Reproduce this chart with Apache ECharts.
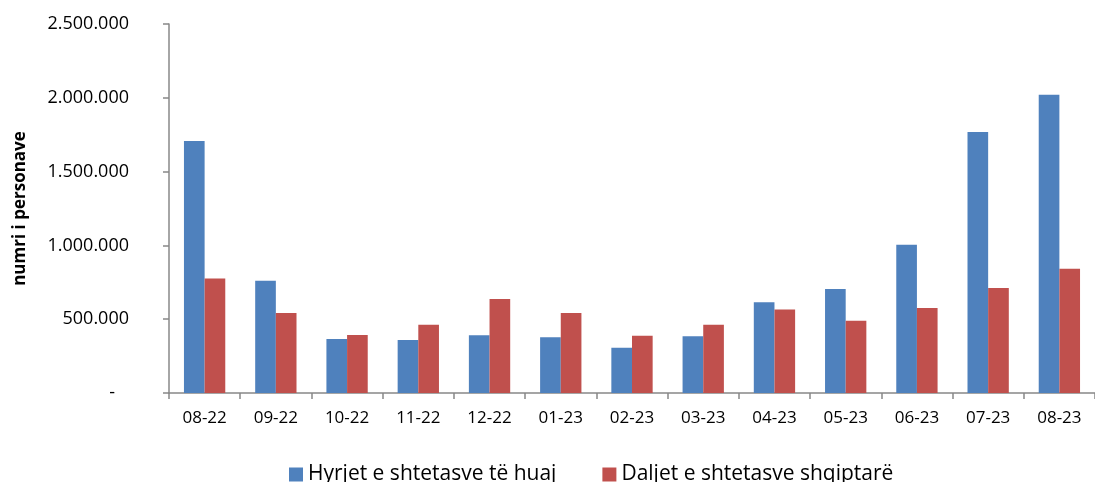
<!DOCTYPE html>
<html><head><meta charset="utf-8">
<script src="https://cdn.jsdelivr.net/npm/echarts@6/dist/echarts.min.js"></script>
<style>html,body{margin:0;padding:0;background:#fff}#c{width:1095px;height:482px}</style>
</head><body><div id="c"></div>
<script>
const categories = ['08-22','09-22','10-22','11-22','12-22','01-23','02-23','03-23','04-23','05-23','06-23','07-23','08-23'];
const hyrjet = [1707000, 761000, 366000, 359000, 391000, 377000, 307000, 384000, 614000, 705000, 1005000, 1768000, 2021000];
const daljet = [775000, 542000, 393000, 463000, 637000, 542000, 388000, 463000, 565000, 490000, 576000, 711000, 842000];
const seriesNames = ['Hyrjet e shtetasve të huaj', 'Daljet e shtetasve shqiptarë'];
const font = 'Open Sans';
const chart = echarts.init(document.getElementById('c'));
chart.setOption({
  animation: false,
  textStyle: {fontFamily: font},
  grid: {left: 169, right: -7, top: 24, bottom: 89, containLabel: false},
  legend: {
    data: seriesNames, top: 459, left: 284, itemWidth: 14, itemHeight: 14, itemGap: 46, itemTextGap: 6,
    icon: 'rect', textStyle: {fontSize: 21, color: '#000', fontFamily: font}
  },
  xAxis: {
    type: 'category', data: categories, boundaryGap: true,
    axisLine: {lineStyle: {color: '#888', width: 1.5}},
    axisTick: {show: true, length: 6, lineStyle: {color: '#888', width: 1.5}},
    axisLabel: {color: '#000', fontSize: 17, margin: 17, fontFamily: font}
  },
  yAxis: {
    type: 'value', min: 0, max: 2500000, interval: 500000,
    name: 'numri i personave', nameLocation: 'middle', nameGap: 140, nameRotate: 90,
    nameTextStyle: {fontWeight: 'bold', fontSize: 17, color: '#000', fontFamily: font},
    splitLine: {show: false},
    axisLine: {show: true, lineStyle: {color: '#888', width: 1.5}},
    axisTick: {show: true, length: 6, lineStyle: {color: '#888', width: 1.5}},
    axisLabel: {color: '#000', fontSize: 18, margin: 40, fontFamily: font,
      formatter: v => v === 0 ? '-   ' : v.toString().replace(/\B(?=(\d{3})+(?!\d))/g, '.')}
  },
  series: [
    {name: seriesNames[0], type: 'bar', data: hyrjet, barGap: '0%', barCategoryGap: '42%',
     itemStyle: {color: '#4F81BD'}},
    {name: seriesNames[1], type: 'bar', data: daljet, barGap: '0%', barCategoryGap: '42%',
     itemStyle: {color: '#C0504D'}}
  ]
});
</script></body></html>
